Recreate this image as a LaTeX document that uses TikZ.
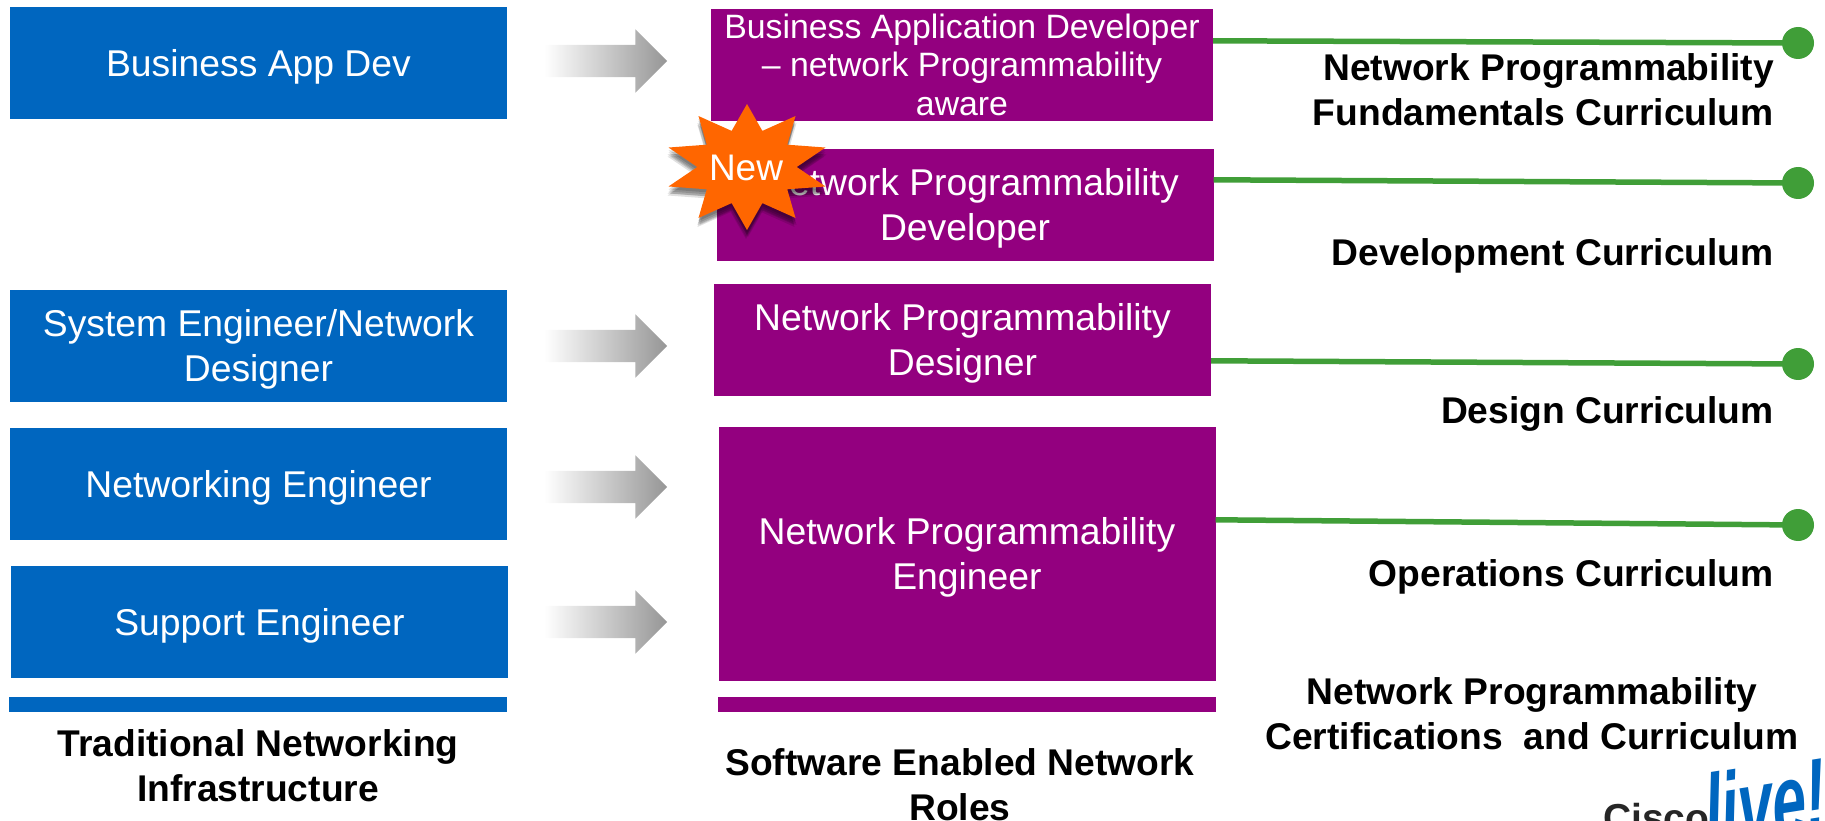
\documentclass[tikz,border=0pt]{standalone}
\usepackage{fontspec}
\setmainfont{Liberation Sans}
\usetikzlibrary{calc,
shapes.geometric,
shapes.arrows,
shadows,
positioning}
\definecolor{infrablue}{HTML}{0066BF}
\definecolor{rolepurple}{HTML}{93007F}
\definecolor{newbadge}{HTML}{FF6600}
\definecolor{curriculumgreen}{HTML}{409E38}
\definecolor{arrowgray}{HTML}{969696}

\begin{document}
\begin{tikzpicture} [x=1pt,
    y=-1pt,
    every node/.style={inner sep=0pt, align=center},
    main text/.style={font={\fontsize{37.3}{45}\selectfont}, text height = 34pt, text depth = 8pt},
    two lines/.style={text height = 79pt},
    label text/.style={font={\fontsize{37.2}{45}\selectfont\bfseries}},
    infra node/.style={rectangle, fill = infrablue, text = white, main text,
        minimum width = 497pt, minimum height = 112pt},
    role node/.style={rectangle, fill = rolepurple, text = white, main text,
        minimum width = 497pt, minimum height = 112pt},
    move arrow/.style={single arrow, single arrow head extend = 15.5pt,
        inner ysep = 16pt, minimum height = 123pt, minimum width = 63pt,
        left color = white, right color = arrowgray},
    end dot/.style={circle, fill = curriculumgreen, minimum size = 32pt},
    link/.style={curriculumgreen, line width = 5.5pt},
    soft shadow/.style={
      drop shadow = {shadow xshift = 0pt, shadow yshift = -3pt, opacity = .14, fill = black},
      drop shadow = {shadow xshift = 0pt, shadow yshift = -5pt, opacity = .14, fill = black},
      drop shadow = {shadow xshift = -1pt, shadow yshift = -7pt, opacity = .14, fill = black},
      drop shadow = {shadow xshift = -1pt, shadow yshift = -9pt, opacity = .12, fill = black},
      drop shadow = {shadow xshift = 1pt, shadow yshift = -7pt, opacity = .12, fill = black}
    }
  ]
  \clip (0,0) rectangle (1825,821);

  % left column
  \node [infra node] (infra0) at (258.5, 63.5)  {Business App Dev};
  \node [infra node, two lines] (infra1) at (258.5, 346) {System Engineer/Network\\Designer};
  \node [infra node] (infra2) at (258.5, 484) {Networking Engineer};
  \node [infra node] (infra3) at (259.5, 622) {Support Engineer};
  \node [rectangle, fill = infrablue, minimum width = 498pt, minimum height = 15pt] (infrabar) at (258, 704.5) {};

  \node [label text] (infralabel) at (258, 766) {Traditional Networking\\Infrastructure};

  % arrows
  \node [move arrow] (move0) at (597.5, 61)  {};
  \node [move arrow] (move1) at (597.5, 346) {};
  \node [move arrow] (move2) at (597.5, 487) {};
  \node [move arrow] (move3) at (597.5, 622) {};

  % middle column
  \node [role node, minimum width = 502pt, text height = 105.8pt, text depth = 5pt,
    font = {\fontsize{33.8}{38.4}\selectfont}] (role0) at (962, 65) {Business Application Developer\\-- network Programmability\\aware};
  \node [role node, two lines] (role1) at (965, 205) {\hspace*{11pt}Network Programmability\\Developer};
  \node [role node, two lines] (role2) at (962.5, 340) {Network Programmability\\Designer};
  \node [role node, two lines, minimum height = 254pt] (role3) at (967, 554) {Network Programmability\\Engineer};
  \node [rectangle, fill = rolepurple, minimum width = 498pt, minimum height = 15pt] (rolebar) at (967, 704.5) {};

  \node [label text] (rolelabel) at (960, 785) {Software Enabled Network\\Roles};

  % badge
  \node [star, star points = 10, star point ratio = 1.66,
    minimum size = 126pt, fill = newbadge, xscale = 1.31, transform shape,
    soft shadow
  ] (badge) at (747, 167) {};
  \node [text = white, font = {\fontsize{37}{45}\selectfont}] (newtext) at (746, 168) {New};

  % right column
  \node [end dot] (dot0) at (1798, 43)  {};
  \node [end dot] (dot1) at (1798, 183) {};
  \node [end dot] (dot2) at (1798, 364) {};
  \node [end dot] (dot3) at (1798, 525) {};

  \draw [link] ($(role0.north east) + (0, 32)$) -- (dot0.center);
  \draw [link] ($(role1.north east) + (0, 31)$) -- (dot1.center);
  \draw [link] ($(role2.north east) + (0, 77)$) -- (dot2.center);
  \draw [link] ($(role3.north east) + (0, 93)$) -- (dot3.center);

  \node [label text, align = right, anchor = east] (curr0) at (1774, 89.5)  {Network Programmability\\Fundamentals Curriculum};
  \node [label text, align = right, anchor = east] (curr1) at (1774, 256) {Development Curriculum};
  \node [label text, align = right, anchor = east] (curr2) at (1774, 413.5) {Design Curriculum};
  \node [label text, align = right, anchor = east] (curr3) at (1774, 576.5) {Operations Curriculum};
  \node [label text] (certlabel) at (1532, 714) {Network Programmability\\Certifications~~and Curriculum};

  % logo
  \node [anchor = south west, text = black!85, font = {\fontsize{39}{45}\selectfont\bfseries}] (ciscoword) at (1603, 832) {Cisco};
  \node [anchor = south west, text = infrablue, rotate = 9, xscale = .85, yscale = 1.45, xslant = .12,
    font = {\fontsize{72}{72}\selectfont\itshape\bfseries}] (liveword) at (1708, 851) {live!};
\end{tikzpicture}
\end{document}
